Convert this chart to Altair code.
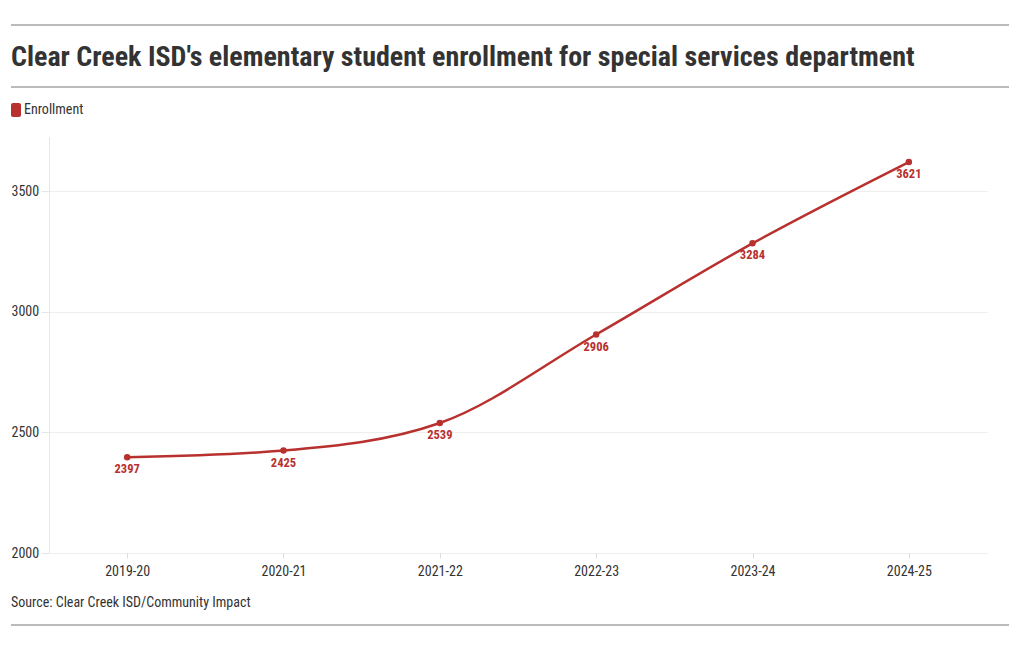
import altair as alt
import pandas as pd

years = ["2019-20", "2020-21", "2021-22", "2022-23", "2023-24", "2024-25"]
enrollment = [2397, 2425, 2539, 2906, 3284, 3621]
y_ticks = [2000, 2500, 3000, 3500]

title_text = "Clear Creek ISD's elementary student enrollment for special services department"
legend_label = "Enrollment"
source_text = "Source: Clear Creek ISD/Community Impact"

RED = "#b8312f"
FONT = "Roboto Condensed, Liberation Sans Narrow, Roboto, sans-serif"

df = pd.DataFrame({"year": years, "enrollment": enrollment})

W, H = 938, 416

x = alt.X("year:O", sort=years, title=None,
          scale=alt.Scale(type="point", padding=0.5),
          axis=alt.Axis(labelAngle=0, labelFontSize=14, labelColor="#333", labelFont=FONT,
                        domain=False, tickColor="#ddd", tickSize=5, labelPadding=6, grid=False))
y = alt.Y("enrollment:Q", title=None,
          scale=alt.Scale(domain=[2000, 3725], nice=False, zero=False),
          axis=alt.Axis(values=y_ticks, labelFontSize=14, labelColor="#333", labelFont=FONT,
                        labelAlign="left", labelPadding=30, tickSize=8, tickColor="#e6e6e6",
                        domainColor="#e6e6e6", gridColor="#eeeeee", format="d"))

base = alt.Chart(df)
line = base.mark_line(color=RED, strokeWidth=2.5, interpolate="monotone").encode(x=x, y=y)
pts = base.mark_circle(color=RED, size=42, opacity=1).encode(x=x, y=y)
labels = base.mark_text(color=RED, fontWeight="bold", fontSize=12.5, font=FONT, dy=12,
                        baseline="middle").encode(x=x, y=y, text="enrollment:Q")

deco = pd.DataFrame({"k": [0]})
dbase = alt.Chart(deco)
rules = []
for yy in [-112, -50, 488]:
    rules.append(dbase.mark_rule(color="#777", strokeWidth=1).encode(
        x=alt.value(-38), x2=alt.value(960), y=alt.value(yy)))
title = dbase.mark_text(text=title_text, align="left", baseline="alphabetic", fontSize=28,
                        fontWeight="bold", color="#333", font=FONT).encode(
    x=alt.value(-38), y=alt.value(-71))
leg_sq = dbase.mark_rect(color=RED, cornerRadius=2).encode(
    x=alt.value(-38), x2=alt.value(-28), y=alt.value(-34), y2=alt.value(-20))
leg_txt = dbase.mark_text(text=legend_label, align="left", baseline="middle", fontSize=14,
                          color="#333", font=FONT).encode(x=alt.value(-25), y=alt.value(-27))
src = dbase.mark_text(text=source_text, align="left", baseline="middle", fontSize=14,
                      color="#333", font=FONT).encode(x=alt.value(-38), y=alt.value(466))

chart = alt.layer(line, pts, labels, *rules, title, leg_sq, leg_txt, src).properties(
    width=W, height=H,
    autosize=alt.AutoSizeParams(type="none"),
    padding={"left": 41, "top": 129, "right": 25, "bottom": 89},
    background="white",
).configure_view(stroke=None)

chart.save("out.html", embed_options={"renderer": "svg", "actions": False})
